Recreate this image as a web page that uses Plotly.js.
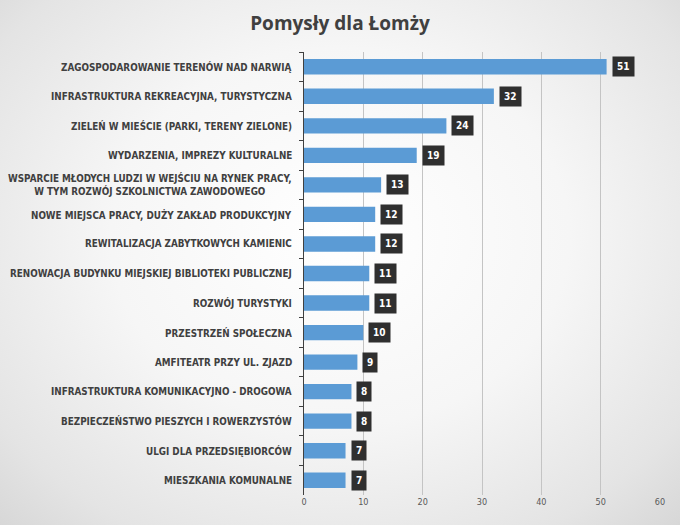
<!DOCTYPE html>
<html>
<head>
<meta charset="utf-8">
<script src="https://cdn.plot.ly/plotly-3.0.1.min.js"></script>
<style>
  html, body { margin: 0; padding: 0; }
  body {
    width: 680px; height: 525px; overflow: hidden;
    background: radial-gradient(ellipse 75% 80% at 50% 45%, #ffffff 0%, #f6f6f6 45%, #e4e4e4 80%, #d4d4d4 100%);
  }
  #chart { width: 680px; height: 525px; }
</style>
</head>
<body>
<div id="chart"></div>
<script>
const categories = [
  "ZAGOSPODAROWANIE TERENÓW NAD NARWIĄ",
  "INFRASTRUKTURA REKREACYJNA, TURYSTYCZNA",
  "ZIELEŃ W MIEŚCIE (PARKI, TERENY ZIELONE)",
  "WYDARZENIA, IMPREZY KULTURALNE",
  "WSPARCIE MŁODYCH LUDZI W WEJŚCIU NA RYNEK PRACY,<br>W TYM ROZWÓJ SZKOLNICTWA ZAWODOWEGO",
  "NOWE MIEJSCA PRACY, DUŻY ZAKŁAD PRODUKCYJNY",
  "REWITALIZACJA ZABYTKOWYCH KAMIENIC",
  "RENOWACJA BUDYNKU MIEJSKIEJ BIBLIOTEKI PUBLICZNEJ",
  "ROZWÓJ TURYSTYKI",
  "PRZESTRZEŃ SPOŁECZNA",
  "AMFITEATR PRZY UL. ZJAZD",
  "INFRASTRUKTURA KOMUNIKACYJNO - DROGOWA",
  "BEZPIECZEŃSTWO PIESZYCH I ROWERZYSTÓW",
  "ULGI DLA PRZEDSIĘBIORCÓW",
  "MIESZKANIA KOMUNALNE"
];
const values = [51, 32, 24, 19, 13, 12, 12, 11, 11, 10, 9, 8, 8, 7, 7];
const xTicks = [0, 10, 20, 30, 40, 50, 60];

const labelFont = "'DejaVu Sans Condensed', 'DejaVu Sans', sans-serif";

const annotations = [];
categories.forEach((c, i) => {
  annotations.push({
    x: 0, xref: 'x', y: c, yref: 'y',
    text: '<b>' + c + '</b>',
    showarrow: false, xanchor: 'right', xshift: -10, align: 'center',
    font: { family: labelFont, size: 9.8, color: '#404040' }
  });
  annotations.push({
    x: values[i], xref: 'x', y: c, yref: 'y',
    text: '<b>' + values[i] + '</b>',
    showarrow: false, xanchor: 'left', xshift: 5,
    bgcolor: '#2f2f2f', borderpad: 4,
    font: { family: labelFont, size: 10, color: '#ffffff' }
  });
});

const trace = {
  type: 'bar', orientation: 'h',
  x: values, y: categories,
  marker: { color: '#5b9bd5' },
  hoverinfo: 'x+y'
};

const layout = {
  width: 680, height: 525,
  paper_bgcolor: 'rgba(0,0,0,0)', plot_bgcolor: 'rgba(0,0,0,0)',
  margin: { l: 304, r: 20, t: 52, b: 30 },
  title: {
    text: 'Pomysły dla Łomży',
    x: 0.5, xanchor: 'center', y: 0.956, yanchor: 'middle',
    font: { family: "'Open Sans', sans-serif", size: 19, color: '#404040', weight: 700 }
  },
  bargap: 0.48,
  showlegend: false,
  xaxis: {
    range: [0, 60], tickvals: xTicks, ticktext: xTicks.map(String),
    showgrid: true, gridcolor: '#c4c4c4', gridwidth: 1,
    zeroline: false, showline: false, ticks: '',
    tickfont: { family: labelFont, size: 9, color: '#595959' },
    fixedrange: true
  },
  yaxis: {
    type: 'category', autorange: 'reversed',
    showticklabels: false,
    showline: true, linecolor: '#404040', linewidth: 1,
    ticks: 'outside', tickson: 'boundaries', ticklen: 4, tickcolor: '#404040',
    showgrid: false, zeroline: false, fixedrange: true
  },
  annotations: annotations
};

Plotly.newPlot('chart', [trace], layout, { displayModeBar: false, staticPlot: true });
</script>
</body>
</html>
